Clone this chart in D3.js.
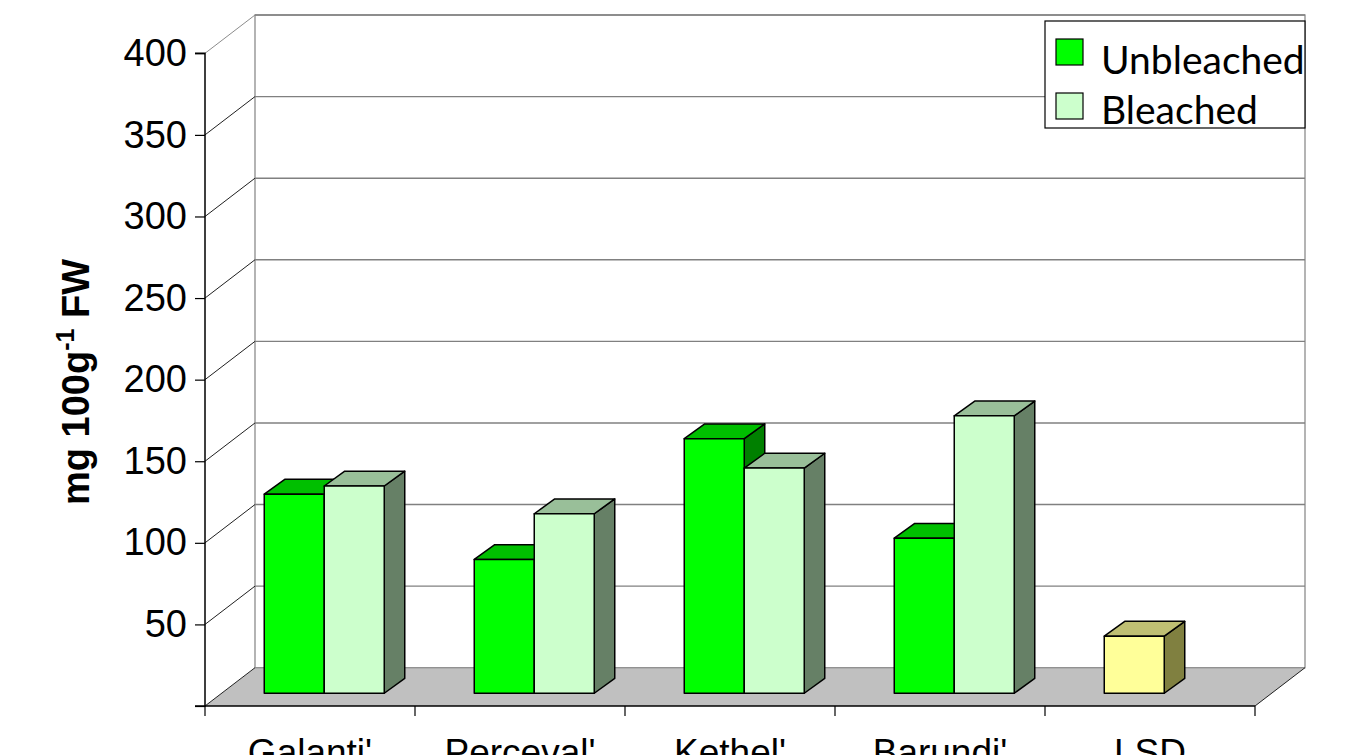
<!DOCTYPE html>
<html>
<head>
<meta charset="utf-8">
<script src="https://cdn.jsdelivr.net/npm/d3@7"></script>
<style>
  html, body { margin: 0; padding: 0; background: #ffffff; }
  svg { display: block; }
</style>
</head>
<body>
<svg id="chart" width="1357" height="755"></svg>
<script>
// Cultivars plus the least significant difference column
const categories = ["Galanti'", "Perceval'", "Kethel'", "Barundi'", "LSD"];
const seriesNames = ["Unbleached", "Bleached"];
const unbleached = [122, 82, 156, 95, null];
const bleached = [127, 110, 138, 170, null];
const lsdValues = [null, null, null, null, 35];
const yTicks = [50, 100, 150, 200, 250, 300, 350, 400];

// Face colours: front, top, side
const palette = {
  Unbleached: ["#00ff00", "#00bf00", "#008000"],
  Bleached: ["#ccffcc", "#99bf99", "#668066"],
  LSD: ["#ffff99", "#bfbf73", "#808040"]
};

const svg = d3.select("#chart");

// Front plane of the plot box
const x = d3.scaleBand().domain(categories).range([205, 1255]);
const y = d3.scaleLinear().domain([0, 400]).range([706, 53.3]);

// Oblique projection: full depth of the box, bar placement and bar depth
const box = { dx: 50, dy: -38.3 };
const barFrontDepth = 0.333;
const barDepth = { dx: 20.5, dy: -14.8 };
const slot = d3.scaleBand().domain(seriesNames).range([42.6, 162.6]);

const pts = arr => arr.map(p => p.join(",")).join(" ");
const [x0, x1] = x.range();
const yBase = y(0);

// Floor
svg.append("polygon")
  .attr("points", pts([[x0, yBase], [x1, yBase], [x1 + box.dx, yBase + box.dy], [x0 + box.dx, yBase + box.dy]]))
  .attr("fill", "#c0c0c0").attr("stroke", "none");

// Left side wall
svg.append("polygon")
  .attr("points", pts([[x0, yBase], [x0 + box.dx, yBase + box.dy], [x0 + box.dx, y(400) + box.dy], [x0, y(400)]]))
  .attr("fill", "#ffffff");

// Back wall
svg.append("rect")
  .attr("x", x0 + box.dx).attr("y", y(400) + box.dy)
  .attr("width", x1 - x0).attr("height", yBase - y(400))
  .attr("fill", "#ffffff").attr("stroke", "#8c8c8c").attr("stroke-width", 1.3);

// Gridlines across the back wall
svg.append("g").selectAll("line").data(yTicks).join("line")
  .attr("x1", x0 + box.dx).attr("x2", x1 + box.dx)
  .attr("y1", d => y(d) + box.dy).attr("y2", d => y(d) + box.dy)
  .attr("stroke", "#808080").attr("stroke-width", 1.4);

// Gridlines across the side wall
svg.append("g").selectAll("line").data(yTicks).join("line")
  .attr("x1", x0).attr("x2", x0 + box.dx)
  .attr("y1", d => y(d)).attr("y2", d => y(d) + box.dy)
  .attr("stroke", d => d === 400 ? "#8c8c8c" : "#202020").attr("stroke-width", 1);

// Floor edges
svg.append("line")
  .attr("x1", x0).attr("y1", yBase).attr("x2", x0 + box.dx).attr("y2", yBase + box.dy)
  .attr("stroke", "#202020").attr("stroke-width", 1);
svg.append("line")
  .attr("x1", x1).attr("y1", yBase).attr("x2", x1 + box.dx).attr("y2", yBase + box.dy)
  .attr("stroke", "#202020").attr("stroke-width", 1);

// Bars
const bars = [];
categories.forEach((c, i) => {
  if (unbleached[i] != null) bars.push({ cat: c, key: "Unbleached", slotKey: "Unbleached", value: unbleached[i] });
  if (bleached[i] != null) bars.push({ cat: c, key: "Bleached", slotKey: "Bleached", value: bleached[i] });
  if (lsdValues[i] != null) bars.push({ cat: c, key: "LSD", slotKey: "Unbleached", value: lsdValues[i] });
});

const barG = svg.append("g");
bars.forEach(b => {
  const xl = x(b.cat) + slot(b.slotKey) + barFrontDepth * box.dx;
  const w = slot.bandwidth();
  const yt = y(b.value) + barFrontDepth * box.dy;
  const yb = yBase + barFrontDepth * box.dy;
  const [front, top, side] = palette[b.key];
  const g = barG.append("g").attr("stroke", "#000000").attr("stroke-width", 1.5).attr("stroke-linejoin", "round");
  g.append("polygon").attr("fill", side)
    .attr("points", pts([[xl + w, yt], [xl + w + barDepth.dx, yt + barDepth.dy], [xl + w + barDepth.dx, yb + barDepth.dy], [xl + w, yb]]));
  g.append("polygon").attr("fill", top)
    .attr("points", pts([[xl, yt], [xl + w, yt], [xl + w + barDepth.dx, yt + barDepth.dy], [xl + barDepth.dx, yt + barDepth.dy]]));
  g.append("rect").attr("fill", front)
    .attr("x", xl).attr("y", yt).attr("width", w).attr("height", yb - yt);
});

// Value axis
const yAxis = svg.append("g").attr("transform", `translate(${x0},0)`)
  .call(d3.axisLeft(y).tickValues([0, ...yTicks]).tickSize(10).tickPadding(8).tickFormat(d => d === 0 ? "" : d));
yAxis.select(".domain").attr("stroke", "#000").attr("stroke-width", 1.5).attr("d", `M-10,${yBase}H0V${y(400)}H-10`);
yAxis.selectAll(".tick line").attr("stroke", "#000").attr("stroke-width", 1.2);
yAxis.selectAll(".tick text")
  .attr("fill", "#000").style("font-family", "'Liberation Sans', Arial, sans-serif").style("font-size", "38px");

// Category axis
const xAxis = svg.append("g").attr("transform", `translate(0,${yBase})`)
  .call(d3.axisBottom(x).tickSize(0).tickPadding(33));
xAxis.select(".domain").attr("stroke", "#000").attr("stroke-width", 1.5).attr("d", `M${x0},0H${x1}`);
xAxis.selectAll(".tick text")
  .attr("fill", "#000").style("font-family", "'Liberation Sans', Arial, sans-serif").style("font-size", "37px");
xAxis.append("g").selectAll("line").data([...categories.map(c => x(c)), x1]).join("line")
  .attr("x1", d => d).attr("x2", d => d).attr("y1", 0).attr("y2", 10)
  .attr("stroke", "#000").attr("stroke-width", 1.2);

// Axis title
const title = svg.append("text")
  .attr("transform", `translate(89,${382}) rotate(-90)`)
  .attr("text-anchor", "middle")
  .style("font-family", "'Liberation Sans', Arial, sans-serif")
  .style("font-weight", "bold").style("font-size", "38px").attr("fill", "#000");
title.append("tspan").text("mg 100g");
title.append("tspan").attr("dy", -15).style("font-size", "25px").text("-1");
title.append("tspan").attr("dy", 15).text(" FW");

// Legend
const legend = svg.append("g").attr("transform", "translate(1045,21)");
legend.append("rect").attr("width", 260).attr("height", 107)
  .attr("fill", "#ffffff").attr("stroke", "#000").attr("stroke-width", 1.2);
seriesNames.forEach((s, i) => {
  const row = legend.append("g").attr("transform", `translate(0,${i * 54})`);
  row.append("rect").attr("x", 11).attr("y", 18).attr("width", 27).attr("height", 26)
    .attr("fill", palette[s][0]).attr("stroke", "#000").attr("stroke-width", 1.2);
  row.append("text").attr("x", 56).attr("y", 53 - i * 4)
    .style("font-family", "Lato, 'Open Sans', sans-serif").style("font-size", "39px")
    .attr("fill", "#000").text(s);
});
</script>
</body>
</html>
